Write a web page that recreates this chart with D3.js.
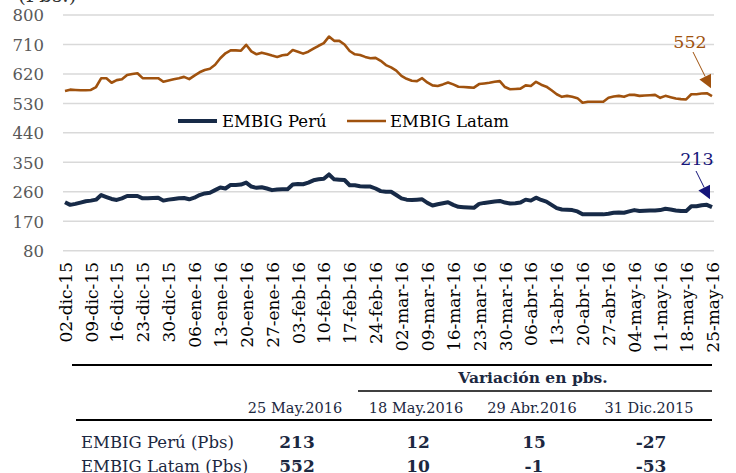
<!DOCTYPE html>
<html>
<head>
<meta charset="utf-8">
<script src="https://cdn.jsdelivr.net/npm/d3@7"></script>
<style>
  html, body { margin: 0; padding: 0; background: #fff; }
  svg { display: block; }
  text { font-family: "DejaVu Serif", "Liberation Serif", serif; }
</style>
</head>
<body>
<svg id="chart" width="736" height="473"></svg>
<script>
// ---- DATA ----
const tickLabels = ["02-dic-15","09-dic-15","16-dic-15","23-dic-15","30-dic-15","06-ene-16","13-ene-16","20-ene-16","27-ene-16","03-feb-16","10-feb-16","17-feb-16","24-feb-16","02-mar-16","09-mar-16","16-mar-16","23-mar-16","30-mar-16","06-abr-16","13-abr-16","20-abr-16","27-abr-16","04-may-16","11-may-16","18-may-16","25-may-16"];
const yTicks = [80,170,260,350,440,530,620,710,800];
const seriesNames = ["EMBIG Perú","EMBIG Latam"];

const peru = [228,220,223,227,231,233,236,250,244,238,235,240,247,247,247,240,240,241,242,233,
  236,238,240,241,237,242,250,255,257,265,273,270,281,281,282,288,276,272,274,270,
  265,267,268,268,282,284,283,288,295,298,300,313,298,297,296,280,280,277,276,276,
  270,262,260,260,250,240,236,235,236,237,226,218,222,225,228,220,214,213,212,211,
  223,226,228,230,232,227,224,225,227,236,233,242,235,230,220,210,206,205,204,200,
  191,191,191,191,191,193,196,197,196,200,204,201,202,203,203,204,208,206,203,201,
  201,216,216,219,220,213];

const latam = [568,572,571,570,570,571,580,607,607,593,601,604,617,620,622,607,607,607,607,596,
  600,604,607,611,604,615,625,632,636,648,668,683,692,692,691,709,689,680,685,681,
  676,672,677,679,693,688,682,688,697,706,714,734,721,721,710,690,680,678,672,668,
  669,660,647,640,630,614,605,599,598,607,594,585,583,588,594,588,581,580,579,578,
  589,591,593,596,598,580,573,574,575,585,583,596,587,581,570,558,550,553,550,546,
  532,535,535,535,535,547,551,553,550,556,556,553,554,555,556,547,553,549,545,543,
  542,558,558,560,561,552];

const tableHeaderDates = ["25 May.2016","18 May.2016","29 Abr.2016","31 Dic.2015"];
const tableRowLabels = ["EMBIG Perú (Pbs)","EMBIG Latam (Pbs)"];
const tableRows = [["213","12","15","-27"],["552","10","-1","-53"]];

// ---- STYLE ----
const colPeru = "#172a47";
const colLatam = "#a0520e";
const colPeruNote = "#15157a";
const tableColor = "#1c2841";

const svg = d3.select("#chart");

const x = d3.scaleLinear().domain([0, peru.length - 1]).range([65, 712]);
const y = d3.scaleLinear().domain([80, 800]).range([250.7, 15]);

// unit label (clipped at top, as in the reference)
svg.append("text").attr("x", 18).attr("y", 2).attr("font-size", 20)
  .attr("fill", "#333").text("(Pbs.)");

// gridlines
svg.append("g").selectAll("line").data(yTicks).join("line")
  .attr("x1", 63).attr("x2", 714)
  .attr("y1", d => y(d)).attr("y2", d => y(d))
  .attr("stroke", "#d9d9d9").attr("stroke-width", 1.5);

// y axis labels
const yAxis = d3.axisLeft(y).tickValues(yTicks).tickSize(0).tickPadding(0);
const gy = svg.append("g").attr("transform", "translate(44,0)").call(yAxis);
gy.select(".domain").remove();
gy.selectAll("text").attr("font-size", 16.5).attr("fill", "#595959")
  .attr("font-family", "DejaVu Serif").attr("dy", "0.36em");

// x axis labels
const xAxis = d3.axisBottom(x).tickValues(tickLabels.map((d, i) => i * 5))
  .tickFormat((d) => tickLabels[d / 5]).tickSize(0).tickPadding(0);
const gx = svg.append("g").attr("transform", "translate(0,262)").call(xAxis);
gx.select(".domain").remove();
gx.selectAll("text")
  .attr("font-size", 17).attr("fill", "#000").attr("font-family", "DejaVu Serif")
  .attr("text-anchor", "end")
  .attr("transform", "rotate(-90)")
  .attr("x", 0).attr("y", 0).attr("dy", "0.36em");

// lines
const line = d3.line().x((d, i) => x(i)).y(d => y(d));
svg.append("path").datum(latam).attr("d", line)
  .attr("fill", "none").attr("stroke", colLatam).attr("stroke-width", 2.6)
  .attr("stroke-linejoin", "round");
svg.append("path").datum(peru).attr("d", line)
  .attr("fill", "none").attr("stroke", colPeru).attr("stroke-width", 4)
  .attr("stroke-linejoin", "round");

// legend
const leg = svg.append("g");
leg.append("line").attr("x1", 178).attr("x2", 217).attr("y1", 121).attr("y2", 121)
  .attr("stroke", colPeru).attr("stroke-width", 4);
leg.append("text").attr("x", 222).attr("y", 127).attr("font-size", 16.5)
  .attr("fill", "#000").text(seriesNames[0]);
leg.append("line").attr("x1", 347).attr("x2", 386).attr("y1", 121).attr("y2", 121)
  .attr("stroke", colLatam).attr("stroke-width", 2.6);
leg.append("text").attr("x", 390).attr("y", 127).attr("font-size", 16.5)
  .attr("fill", "#000").text(seriesNames[1]);

// annotations
function arrow(x1, y1, x2, y2, color) {
  const ang = Math.atan2(y2 - y1, x2 - x1);
  const L = 13, W = 6.5;
  const bx = x2 - L * Math.cos(ang), by = y2 - L * Math.sin(ang);
  svg.append("line").attr("x1", x1).attr("y1", y1).attr("x2", bx).attr("y2", by)
    .attr("stroke", color).attr("stroke-width", 1);
  const p = [[x2, y2],
    [bx + W * Math.sin(ang), by - W * Math.cos(ang)],
    [bx - W * Math.sin(ang), by + W * Math.cos(ang)]];
  svg.append("polygon").attr("points", p.map(q => q.join(",")).join(" ")).attr("fill", color);
}
const lastIdx = latam.length - 1;
svg.append("text").attr("x", 690).attr("y", 48).attr("font-size", 17.5)
  .attr("text-anchor", "middle").attr("fill", colLatam).text(latam[lastIdx]);
arrow(693, 52, x(lastIdx) - 1, y(latam[lastIdx]) - 8, colLatam);
svg.append("text").attr("x", 697).attr("y", 165).attr("font-size", 17.5)
  .attr("text-anchor", "middle").attr("fill", colPeruNote).text(peru[lastIdx]);
arrow(696, 171, x(lastIdx) - 2, y(peru[lastIdx]) - 8, colPeruNote);

// table
const tb = svg.append("g");
tb.append("line").attr("x1", 72).attr("x2", 712).attr("y1", 365).attr("y2", 365)
  .attr("stroke", "#000").attr("stroke-width", 2.2);
tb.append("text").attr("x", 533).attr("y", 383).attr("text-anchor", "middle")
  .attr("font-size", 15.5).attr("font-weight", "bold").attr("fill", tableColor)
  .text("Variación en pbs.");
tb.append("line").attr("x1", 358).attr("x2", 712).attr("y1", 391).attr("y2", 391)
  .attr("stroke", "#000").attr("stroke-width", 1.5);
const colX = [295, 416, 532, 649];
tb.selectAll("text.hd").data(tableHeaderDates).join("text").attr("class", "hd")
  .attr("x", (d, i) => colX[i]).attr("y", 413).attr("text-anchor", "middle")
  .attr("font-size", 14.5).attr("fill", tableColor).text(d => d);
tb.append("line").attr("x1", 76).attr("x2", 712).attr("y1", 420).attr("y2", 420)
  .attr("stroke", "#000").attr("stroke-width", 2.2);
tableRowLabels.forEach((lab, r) => {
  const yy = 448 + r * 24;
  tb.append("text").attr("x", 81).attr("y", yy).attr("font-size", 16.5)
    .attr("fill", tableColor).text(lab);
  tableRows[r].forEach((v, c) => {
    tb.append("text").attr("x", colX[c] + 2).attr("y", yy).attr("text-anchor", "middle")
      .attr("font-size", 17).attr("font-weight", "bold").attr("fill", tableColor).text(v);
  });
});
</script>
</body>
</html>
